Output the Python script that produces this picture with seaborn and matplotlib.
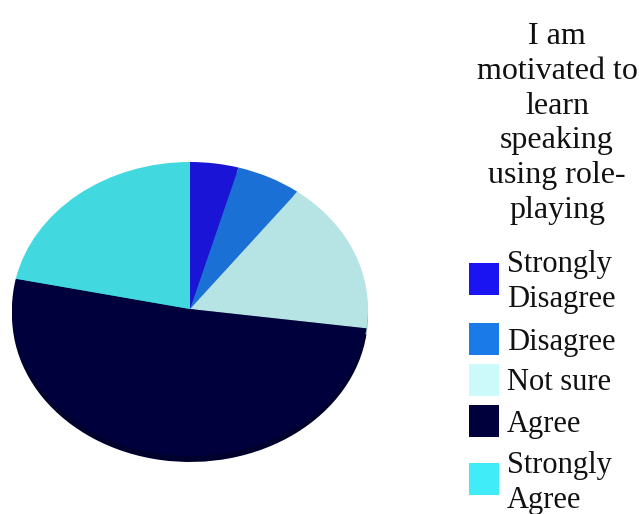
import matplotlib
matplotlib.use("Agg")
import matplotlib.pyplot as plt
import seaborn as sns
from matplotlib.patches import Rectangle

# Survey responses (share of students, %)
categories = ["Strongly\nDisagree", "Disagree", "Not sure", "Agree", "Strongly\nAgree"]
values = [4.4, 5.9, 16.8, 51.2, 21.7]
title_lines = ["I am", "motivated to", "learn", "speaking", "using role-", "playing"]

slice_colors = ["#1a14d6", "#1b70d6", "#b6e4e5", "#00003c", "#42d8e0"]
legend_colors = ["#1a14f2", "#1a7ae8", "#ccfafa", "#00003c", "#40ecf8"]

sns.set_theme(style="white")
plt.rcParams["font.family"] = ["Liberation Serif", "DejaVu Serif"]

W, H = 639, 514
fig = plt.figure(figsize=(W / 100, H / 100), dpi=100)
fig.patch.set_facecolor("white")

# Elliptical pie: a unit pie stretched into a 356 x 294 px box
cx, cy, rx, ry = 190, 309, 178, 147
ax = fig.add_axes([(cx - rx) / W, (H - cy - ry) / H, 2 * rx / W, 2 * ry / H])
palette = sns.color_palette(slice_colors)
depth = 6 / ry
# side of the tilted disc, drawn slightly lower underneath the top face
ax.pie(values, colors=[tuple(c * 0.75 for c in col) for col in palette],
       startangle=90, counterclock=False, radius=1.0, center=(0, -depth),
       wedgeprops=dict(linewidth=0))
ax.pie(values, colors=palette, startangle=90, counterclock=False, radius=1.0,
       wedgeprops=dict(linewidth=0))
ax.set_aspect("auto")
ax.set_xlim(-1.0, 1.0)
ax.set_ylim(-1.0, 1.0)
ax.axis("off")

# Title block on the right
fig.text(557 / W, 1 - 22 / H, "\n".join(title_lines), ha="center", va="top",
         fontsize=23, linespacing=1.265, color="#111111")

# Legend: colour swatches with wrapped labels
swatch_tops = [263, 323, 364, 405, 463]
label_baselines = [272, 350, 390, 432, 473]
line_pitch = 35
for lab, col, top, base in zip(categories, legend_colors, swatch_tops, label_baselines):
    fig.add_artist(Rectangle((469 / W, 1 - (top + 32) / H), 30 / W, 32 / H,
                             transform=fig.transFigure, facecolor=col,
                             edgecolor="none"))
    for i, line in enumerate(lab.split("\n")):
        fig.text(507 / W, 1 - (base + i * line_pitch) / H, line, ha="left",
                 va="baseline", fontsize=22, color="#111111")

fig.savefig("out.png", dpi=100, facecolor="white")
